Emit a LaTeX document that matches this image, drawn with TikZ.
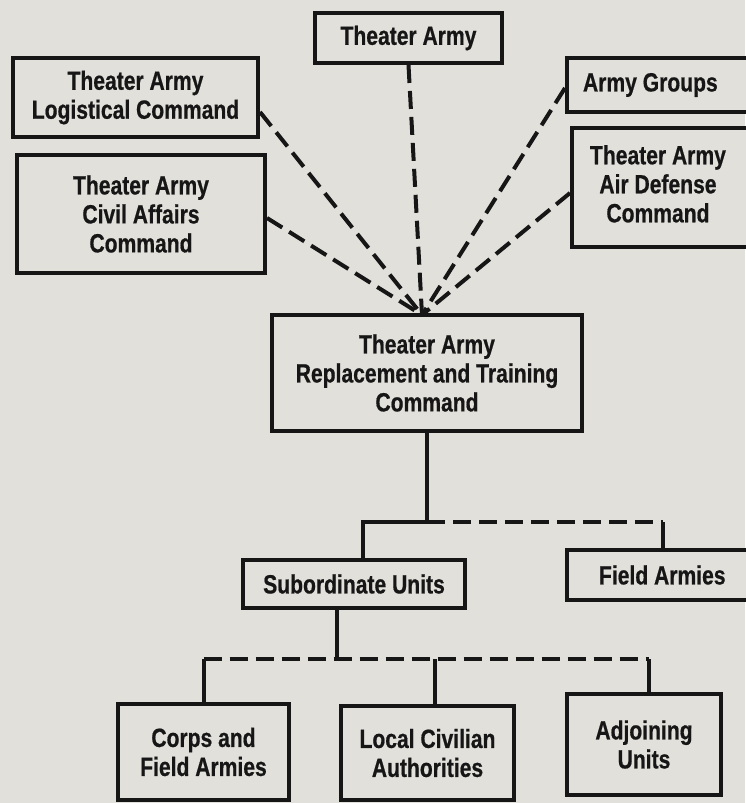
\documentclass[tikz,border=0pt]{standalone}
\usepackage{fontspec}
\setmainfont{Liberation Sans}
\newfontfamily\boxfont[FakeStretch=0.8, FakeBold=0.6]{Liberation Sans}
\definecolor{paper}{RGB}{226,224,219}
\definecolor{ink}{RGB}{22,22,22}
\tikzset{
  unitbox/.style={draw=ink, line width=0.08cm, fill=paper, text=ink, align=center,
    inner sep=0pt, font=\boxfont\fontsize{15}{16.5}\selectfont\bfseries},
  solidlink/.style={draw=ink, line width=0.08cm},
  dashlink/.style={solidlink, dash pattern=on 0.36cm off 0.16cm}
}

\begin{document}
\begin{tikzpicture}
  \fill[paper] (0,0) rectangle (14.9,-16.06);
  \useasboundingbox (0,0) rectangle (14.9,-16.06);
  % upper row
  \node[unitbox, minimum width=3.74cm, minimum height=1.0cm] (ta) at (8.17,-0.76) {Theater Army};
  \node[unitbox, minimum width=4.9cm, minimum height=1.58cm] (log) at (2.71,-1.95) {Theater Army\\Logistical Command};
  \node[unitbox, minimum width=4.96cm, minimum height=2.36cm] (civ) at (2.82,-4.28) {Theater Army\\Civil Affairs\\Command};
  \node[unitbox, anchor=west, minimum height=1.08cm] (grp) at (11.3,-1.7) {\hspace*{0.32cm}Army Groups\hspace*{2cm}};
  \node[unitbox, anchor=west, minimum height=2.38cm] (ad) at (11.4,-3.75)
    {\hspace*{0.36cm}\begin{tabular}{@{}c@{}}Theater Army\\Air Defense\\Command\end{tabular}\hspace*{2cm}};
  \node[unitbox, minimum width=6.2cm, minimum height=2.32cm] (rt) at (8.54,-7.46) {Theater Army\\Replacement and Training\\Command};
  % lower rows
  \node[unitbox, minimum width=4.44cm, minimum height=0.96cm] (sub) at (7.08,-11.68) {Subordinate Units};
  \node[unitbox, anchor=west, minimum height=1.0cm] (fa) at (11.3,-11.5) {\hspace*{0.64cm}Field Armies\hspace*{2cm}};
  \node[unitbox, minimum width=3.42cm, minimum height=1.92cm] (cfa) at (4.07,-15.04) {Corps and\\Field Armies};
  \node[unitbox, minimum width=3.46cm, minimum height=1.88cm] (lca) at (8.55,-15.06) {Local Civilian\\Authorities};
  \node[unitbox, minimum width=3.08cm, minimum height=2.02cm] (adj) at (12.88,-14.89) {Adjoining\\Units};

  \coordinate (hub) at (8.44,-6.30);
  \draw[dashlink] (ta.south) -- (hub);
  \draw[dashlink] ([yshift=-0.29cm]log.east) -- (hub);
  \draw[dashlink] ([yshift=-0.08cm]civ.east) -- (hub);
  \draw[dashlink] ([yshift=-0.06cm]grp.west) -- (hub);
  \draw[dashlink] ([yshift=-0.11cm]ad.west) -- (hub);

  \coordinate (j1) at (8.54,-10.44);
  \coordinate (j2) at (13.26,-10.44);
  \draw[solidlink] (rt.south) -- (j1) -| ([xshift=0.18cm]sub.north);
  \draw[dashlink] (j1) -- (j2);
  \draw[solidlink] (j2) -- (j2 |- fa.north);

  \coordinate (j3) at (6.74,-13.18);
  \coordinate (lcatop) at ([xshift=0.15cm]lca.north);
  \coordinate (adjtop) at ([xshift=0.1cm]adj.north);
  \draw[solidlink] ([xshift=-0.34cm]sub.south) -- (j3);
  \draw[dashlink] (cfa.north |- j3) -- (adjtop |- j3);
  \draw[solidlink] (cfa.north |- j3) -- (cfa.north);
  \draw[solidlink] (lcatop |- j3) -- (lcatop);
  \draw[solidlink] (adjtop |- j3) -- (adjtop);
\end{tikzpicture}
\end{document}
